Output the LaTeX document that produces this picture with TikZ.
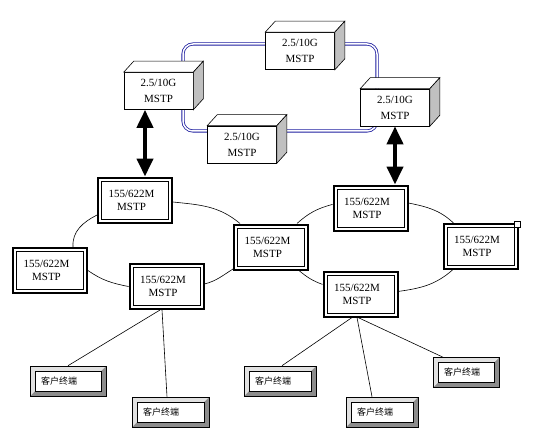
\documentclass[tikz,border=0pt]{standalone}
\usepackage{fontspec}
\setmainfont{Liberation Serif}
\newfontfamily\cjk{Noto Sans CJK SC}
\usetikzlibrary{arrows.meta}
\definecolor{ringblue}{RGB}{30,30,160}
\definecolor{sidegray}{RGB}{192,192,192}
\definecolor{bevlight}{RGB}{225,225,225}
\definecolor{bevdark}{RGB}{140,140,140}
\begin{document}
\begin{tikzpicture}[x=1pt,y=1pt,
  cube/.style={draw, line width=0.6pt, fill=white, minimum width=69pt, minimum height=37pt,
    inner sep=0pt, align=center, font=\fontsize{11}{16}\selectfont},
  mbox/.style={draw, line width=2pt, fill=white, minimum width=74pt, minimum height=45pt,
    inner sep=0pt, align=center, font=\fontsize{11}{13}\selectfont,
    path picture={\draw[line width=1pt]
      ([shift={(3.5pt,-3.5pt)}]path picture bounding box.north west) rectangle
      ([shift={(-3.5pt,3.5pt)}]path picture bounding box.south east);}},
  client/.style={draw, line width=0.6pt, fill=bevdark, minimum height=30pt,
    text width=#1, inner xsep=11pt, inner ysep=0pt, align=left,
    font=\cjk\fontsize{9}{10}\selectfont,
    path picture={
      \fill[bevlight] (path picture bounding box.north west) -- (path picture bounding box.north east)
        -- ([shift={(-5pt,-5pt)}]path picture bounding box.north east)
        -- ([shift={(5pt,-5pt)}]path picture bounding box.north west)
        -- ([shift={(5pt,5pt)}]path picture bounding box.south west)
        -- (path picture bounding box.south west) -- cycle;
      \draw[fill=white, line width=0.6pt]
        ([shift={(5pt,-5pt)}]path picture bounding box.north west) rectangle
        ([shift={(-5pt,5pt)}]path picture bounding box.south east);}},
  ring/.style={draw=ringblue, double=white, line width=0.8pt, double distance=1.5pt, rounded corners=10pt},
  link/.style={draw, line width=0.6pt},
  dblarrow/.style={line width=4pt, {Triangle[width=16pt,length=18pt]}-{Triangle[width=16pt,length=18pt]}},
  face/.style={draw, line width=0.6pt}
]
\path[use as bounding box] (0,0) rectangle (537,437);

% blue double ring
\coordinate (rNW) at (183,393);
\coordinate (rSE) at (377,306);
\draw[ring] (rNW) rectangle (rSE);

% 2.5/10G boxes
\node[cube] (L)  at (158.5,346)  {2.5/10G\\MSTP};
\node[cube] (T)  at (300,386)    {2.5/10G\\MSTP};
\node[cube] (R)  at (395,329.5)  {2.5/10G\\MSTP};
\node[cube] (Bo) at (242,292.5)  {2.5/10G\\MSTP};
\foreach \n in {L,T,R,Bo}{
  \draw[face, fill=white] (\n.north west) -- ++(10,11) -- ([shift={(10pt,11pt)}]\n.north east) -- (\n.north east) -- cycle;
  \draw[face, fill=sidegray] (\n.north east) -- ++(10,11) -- ([shift={(10pt,11pt)}]\n.south east) -- (\n.south east) -- cycle;
}

% 155/622M boxes
\node[mbox] (A) at (135,237)    {155/622M\hspace*{7pt}\\MSTP\hspace*{7pt}};
\node[mbox] (B) at (50,166.5)   {155/622M\hspace*{7pt}\\MSTP\hspace*{7pt}};
\node[mbox] (C) at (166.5,150.5){155/622M\hspace*{7pt}\\MSTP\hspace*{7pt}};
\node[mbox] (D) at (271,190)    {155/622M\hspace*{7pt}\\MSTP\hspace*{7pt}};
\node[mbox] (E) at (370.5,229)  {155/622M\hspace*{7pt}\\MSTP\hspace*{7pt}};
\node[mbox] (F) at (480.5,190.5){155/622M\hspace*{7pt}\\MSTP\hspace*{7pt}};
\node[mbox] (G) at (360.5,143)  {155/622M\hspace*{7pt}\\MSTP\hspace*{7pt}};
\node[draw, fill=white, line width=0.5pt, minimum size=6pt, inner sep=0pt] (h) at ([shift={(-1pt,-1pt)}]F.north east) {};

% arrows
\draw[dblarrow] ([xshift=-13.5pt]L.south) -- ([xshift=-13.5pt]L.south |- A.north);
\draw[dblarrow] (R.south) -- (R.south |- E.north);

% left ring
\draw[link] ([yshift=-15pt]A.west) to[out=207,in=94] ([xshift=23pt]B.north);
\draw[link] ([yshift=-2pt]A.east) to[out=-6,in=140] ([xshift=-31pt]D.north);
\draw[link] (B.east) to[out=-35,in=169] (C.west);
\draw[link] ([yshift=2.5pt]C.east) to[out=14.5,in=212] ([yshift=-22pt]D.west);
% right ring
\draw[link] ([xshift=26pt]D.north) to[out=42,in=195] ([yshift=3.6pt]E.west);
\draw[link] ([yshift=5pt]E.east) to[out=-11.6,in=137] ([xshift=-27pt]F.north);
\draw[link] ([xshift=-28pt]F.south) to[out=221,in=8] ([yshift=2.6pt]G.east);
\draw[link] ([yshift=9.6pt]G.west) to[out=160,in=320] ([xshift=28pt]D.south);

% clients
\node[client=54pt] (K1) at (68,56)     {客户终端};
\node[client=55pt] (K2) at (170.5,25)  {客户终端};
\node[client=50pt] (K3) at (280,56)    {客户终端};
\node[client=50pt] (K4) at (382,25)    {客户终端};
\node[client=44pt] (K5) at (466,64.5)  {客户终端};

\draw[link] ([xshift=-6.5pt]C.south) -- (K1.north);
\draw[link] ([xshift=-4.5pt]C.south) -- ([xshift=-3.5pt]K2.north);
\draw[link] ([xshift=-8.5pt]G.south) -- ([xshift=2pt]K3.north);
\draw[link] ([xshift=-3.5pt]G.south) -- ([xshift=-10pt]K4.north);
\draw[link] ([xshift=-2.5pt]G.south) -- ([xshift=-23pt]K5.north);
\end{tikzpicture}
\end{document}
